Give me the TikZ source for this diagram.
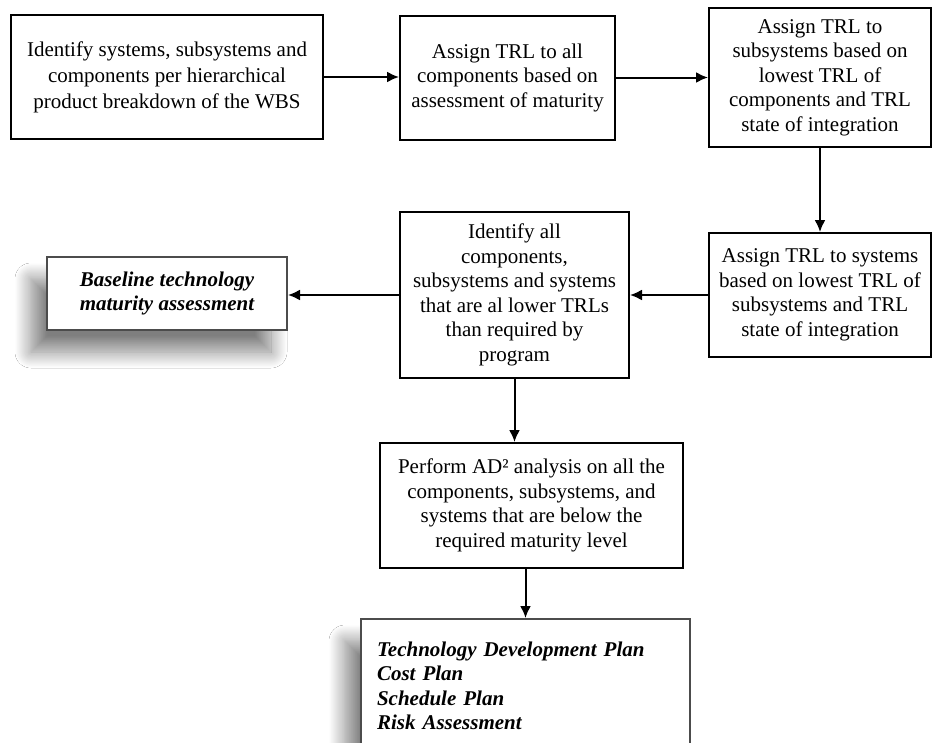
\documentclass[tikz,border=0pt]{standalone}
\usepackage{fontspec}
\setmainfont{Liberation Serif}
\usetikzlibrary{arrows.meta,shadows.blur}

\newcommand{\bodyfont}{\fontsize{21}{24.5}\selectfont}
\newcommand{\widefont}{\fontsize{21}{26}\selectfont}

\tikzset{
  procbox/.style={draw=black, line width=2pt, fill=white, align=center,
    inner sep=0pt, font=\bodyfont},
  resultbox/.style={draw=black!70, line width=2pt, fill=white,
    inner sep=0pt, font=\bodyfont\bfseries\itshape,
    blur shadow={shadow xshift=-16pt, shadow yshift=-22pt,
      shadow blur radius=16pt, shadow blur steps=24, shadow opacity=50}},
  flow/.style={line width=2pt, -{Latex[length=12pt,width=11pt]}}
}

\begin{document}
\begin{tikzpicture}[x=1pt, y=-1pt]
  \useasboundingbox (0,0) rectangle (933,742);
  \fill[white] (0,0) rectangle (933,742);
  \clip (0,0) rectangle (933,742);

  % top row
  \node[procbox, font=\widefont, minimum width=312, minimum height=124] (wbs) at (167,77)
    {Identify systems, subsystems and\\components per hierarchical\\product breakdown of the WBS};
  \node[procbox, minimum width=215, minimum height=124] (comp) at (507.5,77.5)
    {Assign TRL to all\\components based on\\assessment of maturity};
  \node[procbox, minimum width=222, minimum height=139] (subs) at (820,77.5)
    {Assign TRL to\\subsystems based on\\lowest TRL of\\components and TRL\\state of integration};

  % middle row
  \node[procbox, minimum width=222, minimum height=124] (sys) at (820,295)
    {Assign TRL to systems\\based on lowest TRL of\\subsystems and TRL\\state of integration};
  \node[procbox, minimum width=229, minimum height=166] (low) at (514.5,295)
    {Identify all\\components,\\subsystems and systems\\that are al lower TRLs\\than required by\\program};
  \node[resultbox, align=center, minimum width=240, minimum height=73] (base) at (167,293.5)
    {Baseline technology\\maturity assessment};

  % analysis and plans
  \node[procbox, minimum width=303, minimum height=125] (ad2) at (531.5,505.5)
    {Perform AD² analysis on all the\\components, subsystems, and\\systems that are below the\\required maturity level};
  \node[resultbox, align=left, anchor=north, text width=297pt, inner xsep=16pt,
        minimum width=329, minimum height=134] (plans) at (525.5,618)
    {Technology Development Plan\\Cost Plan\\Schedule Plan\\Risk Assessment};

  % connectors
  \draw[flow] (wbs.east) -- (wbs.east -| comp.west);
  \draw[flow] (comp.east) -- (comp.east -| subs.west);
  \draw[flow] (subs) -- (sys);
  \draw[flow] (sys) -- (low);
  \draw[flow] (low.west) -- (base.east |- low.west);
  \draw[flow] (low.south) -- (low.south |- ad2.north);
  \draw[flow] (plans.north |- ad2.south) -- (plans.north);
\end{tikzpicture}
\end{document}
